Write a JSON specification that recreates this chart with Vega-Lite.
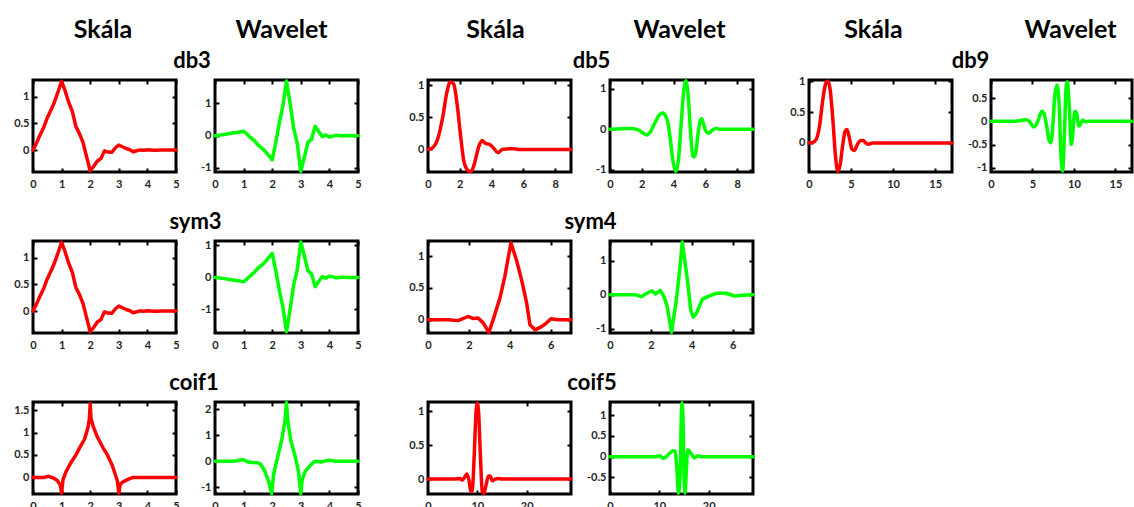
{
  "$schema": "https://vega.github.io/schema/vega-lite/v6.json",
  "padding": {"left": 12, "top": 16, "right": 0, "bottom": 0},
  "background": "white",
  "datasets": {
    "empty": [],
    "db3phi": [{"x":0,"y":0},{"x":0.125,"y":0.134},{"x":0.25,"y":0.285},{"x":0.375,"y":0.423},{"x":0.5,"y":0.605},{"x":0.625,"y":0.744},{"x":0.75,"y":0.898},{"x":0.875,"y":1.091},{"x":1,"y":1.286},{"x":1.125,"y":1.105},{"x":1.25,"y":0.89},{"x":1.375,"y":0.724},{"x":1.5,"y":0.441},{"x":1.625,"y":0.307},{"x":1.75,"y":0.14},{"x":1.875,"y":-0.126},{"x":2,"y":-0.386},{"x":2.125,"y":-0.303},{"x":2.25,"y":-0.203},{"x":2.375,"y":-0.158},{"x":2.5,"y":-0.015},{"x":2.625,"y":-0.037},{"x":2.75,"y":-0.041},{"x":2.875,"y":0.038},{"x":3,"y":0.095},{"x":3.125,"y":0.062},{"x":3.25,"y":0.03},{"x":3.375,"y":0.011},{"x":3.5,"y":-0.032},{"x":3.625,"y":-0.013},{"x":3.75,"y":0.003},{"x":3.875,"y":-0.002},{"x":4,"y":0.004},{"x":4.125,"y":0.002},{"x":4.25,"y":-0.002},{"x":4.5,"y":0},{"x":5,"y":0}],
    "db3psi": [{"x":0,"y":0},{"x":0.125,"y":0.014},{"x":0.25,"y":0.03},{"x":0.375,"y":0.045},{"x":0.5,"y":0.064},{"x":0.625,"y":0.079},{"x":0.75,"y":0.095},{"x":0.875,"y":0.116},{"x":1,"y":0.136},{"x":1.125,"y":0.043},{"x":1.25,"y":-0.063},{"x":1.375,"y":-0.157},{"x":1.5,"y":-0.288},{"x":1.625,"y":-0.378},{"x":1.75,"y":-0.481},{"x":1.875,"y":-0.616},{"x":2,"y":-0.751},{"x":2.125,"y":-0.212},{"x":2.25,"y":0.403},{"x":2.375,"y":0.942},{"x":2.5,"y":1.701},{"x":2.625,"y":1.008},{"x":2.75,"y":0.235},{"x":2.875,"y":-0.238},{"x":3,"y":-1.108},{"x":3.125,"y":-0.669},{"x":3.25,"y":-0.204},{"x":3.375,"y":-0.114},{"x":3.5,"y":0.288},{"x":3.625,"y":0.131},{"x":3.75,"y":-0.029},{"x":3.875,"y":0.023},{"x":4,"y":-0.04},{"x":4.125,"y":-0.016},{"x":4.25,"y":0.015},{"x":4.375,"y":-0.002},{"x":4.5,"y":-0.002},{"x":4.625,"y":0.001},{"x":5,"y":0}],
    "sym3phi": [{"x":0,"y":0},{"x":0.125,"y":0.134},{"x":0.25,"y":0.285},{"x":0.375,"y":0.423},{"x":0.5,"y":0.605},{"x":0.625,"y":0.744},{"x":0.75,"y":0.898},{"x":0.875,"y":1.091},{"x":1,"y":1.286},{"x":1.125,"y":1.105},{"x":1.25,"y":0.89},{"x":1.375,"y":0.724},{"x":1.5,"y":0.441},{"x":1.625,"y":0.307},{"x":1.75,"y":0.14},{"x":1.875,"y":-0.126},{"x":2,"y":-0.386},{"x":2.125,"y":-0.303},{"x":2.25,"y":-0.203},{"x":2.375,"y":-0.158},{"x":2.5,"y":-0.015},{"x":2.625,"y":-0.037},{"x":2.75,"y":-0.041},{"x":2.875,"y":0.038},{"x":3,"y":0.095},{"x":3.125,"y":0.062},{"x":3.25,"y":0.03},{"x":3.375,"y":0.011},{"x":3.5,"y":-0.032},{"x":3.625,"y":-0.013},{"x":3.75,"y":0.003},{"x":3.875,"y":-0.002},{"x":4,"y":0.004},{"x":4.125,"y":0.002},{"x":4.25,"y":-0.002},{"x":4.5,"y":0},{"x":5,"y":0}],
    "sym3psi": [{"x":0,"y":0},{"x":0.125,"y":-0.014},{"x":0.25,"y":-0.03},{"x":0.375,"y":-0.045},{"x":0.5,"y":-0.064},{"x":0.625,"y":-0.079},{"x":0.75,"y":-0.095},{"x":0.875,"y":-0.116},{"x":1,"y":-0.136},{"x":1.125,"y":-0.043},{"x":1.25,"y":0.063},{"x":1.375,"y":0.157},{"x":1.5,"y":0.288},{"x":1.625,"y":0.378},{"x":1.75,"y":0.481},{"x":1.875,"y":0.616},{"x":2,"y":0.751},{"x":2.125,"y":0.212},{"x":2.25,"y":-0.403},{"x":2.375,"y":-0.942},{"x":2.5,"y":-1.701},{"x":2.625,"y":-1.008},{"x":2.75,"y":-0.235},{"x":2.875,"y":0.238},{"x":3,"y":1.108},{"x":3.125,"y":0.669},{"x":3.25,"y":0.204},{"x":3.375,"y":0.114},{"x":3.5,"y":-0.288},{"x":3.625,"y":-0.131},{"x":3.75,"y":0.029},{"x":3.875,"y":-0.023},{"x":4,"y":0.04},{"x":4.125,"y":0.016},{"x":4.25,"y":-0.015},{"x":4.375,"y":0.002},{"x":4.5,"y":0.002},{"x":4.625,"y":-0.001},{"x":5,"y":0}],
    "coif1phi": [{"x":0,"y":0},{"x":0.4,"y":0},{"x":0.53,"y":0.025},{"x":0.7,"y":-0.01},{"x":0.85,"y":-0.07},{"x":0.95,"y":-0.17},{"x":1,"y":-0.35},{"x":1.05,"y":-0.05},{"x":1.15,"y":0.12},{"x":1.3,"y":0.3},{"x":1.5,"y":0.5},{"x":1.65,"y":0.68},{"x":1.8,"y":0.85},{"x":1.92,"y":1.1},{"x":1.97,"y":1.3},{"x":2,"y":1.64},{"x":2.03,"y":1.3},{"x":2.1,"y":1.15},{"x":2.25,"y":0.9},{"x":2.45,"y":0.66},{"x":2.6,"y":0.5},{"x":2.75,"y":0.3},{"x":2.85,"y":0.12},{"x":2.95,"y":-0.08},{"x":3,"y":-0.35},{"x":3.05,"y":-0.15},{"x":3.15,"y":-0.1},{"x":3.3,"y":-0.05},{"x":3.5,"y":0},{"x":4,"y":0},{"x":5,"y":0}],
    "coif1psi": [{"x":0,"y":0},{"x":0.65,"y":0},{"x":0.98,"y":0.06},{"x":1.15,"y":-0.03},{"x":1.3,"y":-0.05},{"x":1.5,"y":-0.06},{"x":1.6,"y":-0.12},{"x":1.75,"y":-0.4},{"x":1.88,"y":-0.8},{"x":1.98,"y":-1.24},{"x":2.05,"y":-0.5},{"x":2.2,"y":0.2},{"x":2.35,"y":0.9},{"x":2.45,"y":1.6},{"x":2.5,"y":2.25},{"x":2.55,"y":1.5},{"x":2.65,"y":0.8},{"x":2.8,"y":0.2},{"x":2.92,"y":-0.4},{"x":3,"y":-1.24},{"x":3.05,"y":-0.7},{"x":3.15,"y":-0.4},{"x":3.3,"y":-0.2},{"x":3.45,"y":-0.03},{"x":3.5,"y":0},{"x":3.7,"y":-0.03},{"x":4,"y":0.04},{"x":4.2,"y":0},{"x":5,"y":0}],
    "sym4phi": [{"x":0,"y":0},{"x":0.98,"y":0},{"x":1.47,"y":-0.015},{"x":1.96,"y":0.05},{"x":2.2,"y":0.02},{"x":2.45,"y":0.025},{"x":2.7,"y":-0.05},{"x":2.98,"y":-0.2},{"x":3.19,"y":0},{"x":3.52,"y":0.34},{"x":3.76,"y":0.68},{"x":4.06,"y":1.21},{"x":4.33,"y":0.94},{"x":4.58,"y":0.63},{"x":4.83,"y":0.26},{"x":4.99,"y":-0.08},{"x":5.24,"y":-0.16},{"x":5.56,"y":-0.11},{"x":5.81,"y":-0.05},{"x":6.02,"y":0.015},{"x":6.38,"y":0},{"x":7,"y":0}],
    "sym4psi": [{"x":0,"y":0},{"x":1.24,"y":0},{"x":1.52,"y":-0.06},{"x":1.81,"y":0.04},{"x":2.06,"y":0.11},{"x":2.22,"y":0.02},{"x":2.47,"y":0.12},{"x":2.64,"y":-0.06},{"x":2.8,"y":-0.35},{"x":3.01,"y":-1.11},{"x":3.25,"y":-0.16},{"x":3.41,"y":0.72},{"x":3.54,"y":1.55},{"x":3.79,"y":0.43},{"x":3.95,"y":-0.45},{"x":4.07,"y":-0.66},{"x":4.23,"y":-0.55},{"x":4.53,"y":-0.13},{"x":4.78,"y":-0.06},{"x":5.19,"y":0.04},{"x":5.68,"y":0.04},{"x":6.1,"y":-0.04},{"x":6.5,"y":-0.02},{"x":7,"y":0}],
    "db5phi": [{"x":0,"y":0},{"x":0.3,"y":0.03},{"x":0.63,"y":0.18},{"x":0.94,"y":0.52},{"x":1.19,"y":0.89},{"x":1.4,"y":1.05},{"x":1.61,"y":1.02},{"x":1.82,"y":0.73},{"x":2.03,"y":0.26},{"x":2.24,"y":-0.16},{"x":2.45,"y":-0.31},{"x":2.62,"y":-0.34},{"x":2.75,"y":-0.33},{"x":2.93,"y":-0.21},{"x":3.2,"y":0.05},{"x":3.41,"y":0.14},{"x":3.55,"y":0.11},{"x":3.66,"y":0.09},{"x":3.87,"y":0.08},{"x":4.13,"y":0.02},{"x":4.4,"y":-0.05},{"x":4.67,"y":0},{"x":5.13,"y":0.01},{"x":5.44,"y":0.01},{"x":5.76,"y":0},{"x":9,"y":0}],
    "db5psi": [{"x":0,"y":0},{"x":1.26,"y":0.016},{"x":1.78,"y":-0.016},{"x":2.1,"y":-0.1},{"x":2.3,"y":-0.14},{"x":2.51,"y":-0.08},{"x":2.83,"y":0.16},{"x":3.1,"y":0.35},{"x":3.3,"y":0.4},{"x":3.5,"y":0.33},{"x":3.65,"y":0.15},{"x":3.77,"y":-0.16},{"x":3.98,"y":-0.82},{"x":4.15,"y":-1.04},{"x":4.31,"y":-0.74},{"x":4.5,"y":0.25},{"x":4.65,"y":0.98},{"x":4.77,"y":1.19},{"x":4.92,"y":0.82},{"x":5.07,"y":-0.08},{"x":5.22,"y":-0.66},{"x":5.3,"y":-0.68},{"x":5.4,"y":-0.57},{"x":5.55,"y":-0.08},{"x":5.7,"y":0.23},{"x":5.77,"y":0.26},{"x":5.86,"y":0.16},{"x":6.03,"y":-0.04},{"x":6.2,"y":-0.1},{"x":6.45,"y":-0.016},{"x":6.7,"y":0.016},{"x":6.91,"y":0},{"x":9,"y":0}],
    "db9phi": [{"x":0,"y":0},{"x":0.47,"y":0.01},{"x":0.86,"y":0.06},{"x":1.26,"y":0.28},{"x":1.65,"y":0.71},{"x":1.96,"y":0.95},{"x":2.24,"y":1.0},{"x":2.51,"y":0.87},{"x":2.83,"y":0.39},{"x":3.14,"y":-0.2},{"x":3.42,"y":-0.46},{"x":3.69,"y":-0.36},{"x":4.0,"y":-0.04},{"x":4.32,"y":0.2},{"x":4.52,"y":0.22},{"x":4.79,"y":0.09},{"x":5.1,"y":-0.1},{"x":5.38,"y":-0.12},{"x":5.77,"y":-0.02},{"x":6.16,"y":0.04},{"x":6.44,"y":0.04},{"x":6.75,"y":0},{"x":7.07,"y":-0.02},{"x":7.54,"y":0},{"x":17,"y":0}],
    "db9psi": [{"x":0,"y":0},{"x":2.67,"y":0},{"x":3.45,"y":0.014},{"x":4.16,"y":0.036},{"x":4.63,"y":0},{"x":5.14,"y":-0.12},{"x":5.41,"y":-0.086},{"x":5.8,"y":0.08},{"x":6.12,"y":0.22},{"x":6.39,"y":0.17},{"x":6.71,"y":-0.1},{"x":6.98,"y":-0.39},{"x":7.22,"y":-0.46},{"x":7.45,"y":-0.1},{"x":7.69,"y":0.55},{"x":7.96,"y":0.78},{"x":8.24,"y":0.26},{"x":8.39,"y":-0.53},{"x":8.63,"y":-1.07},{"x":8.86,"y":-0.24},{"x":9.06,"y":0.76},{"x":9.22,"y":0.85},{"x":9.45,"y":0.26},{"x":9.69,"y":-0.5},{"x":10.12,"y":0.22},{"x":10.31,"y":0.19},{"x":10.59,"y":-0.1},{"x":10.78,"y":-0.065},{"x":11.06,"y":0.03},{"x":11.37,"y":-0.014},{"x":11.69,"y":0},{"x":17,"y":0}],
    "coif5phi": [{"x":0,"y":0},{"x":5.44,"y":0},{"x":6.46,"y":0.01},{"x":6.94,"y":-0.015},{"x":7.48,"y":0.035},{"x":7.89,"y":0.074},{"x":8.3,"y":-0.015},{"x":8.71,"y":-0.19},{"x":8.98,"y":-0.16},{"x":9.39,"y":0.38},{"x":9.73,"y":0.98},{"x":10.0,"y":1.12},{"x":10.27,"y":0.98},{"x":10.61,"y":0.38},{"x":11.02,"y":-0.19},{"x":11.3,"y":-0.21},{"x":11.77,"y":-0.09},{"x":12.24,"y":0.045},{"x":12.59,"y":0.045},{"x":13.06,"y":-0.025},{"x":13.6,"y":0},{"x":14.3,"y":0.01},{"x":14.97,"y":0},{"x":29,"y":0}],
    "coif5psi": [{"x":0,"y":0},{"x":9.08,"y":0},{"x":10.1,"y":0.024},{"x":10.78,"y":-0.04},{"x":11.47,"y":0.01},{"x":12.15,"y":0.09},{"x":12.83,"y":0.145},{"x":13.2,"y":0.13},{"x":13.58,"y":-0.31},{"x":13.86,"y":-0.88},{"x":14.2,"y":-0.48},{"x":14.47,"y":0.98},{"x":14.6,"y":1.3},{"x":14.81,"y":0.9},{"x":15.02,"y":-0.48},{"x":15.22,"y":-0.88},{"x":15.49,"y":-0.31},{"x":15.77,"y":0.17},{"x":16.11,"y":0.13},{"x":16.59,"y":0.05},{"x":17.13,"y":-0.03},{"x":17.82,"y":0.024},{"x":18.5,"y":0},{"x":29,"y":0}]
  },
  "concat": [
    {
      "width": 143, "height": 92, "data": {"name": "db3phi"},
      "title": {"text": "Skála", "dx": -1.5},
      "layer": [
        {"mark": {"type": "line", "color": "#ff0000"}, "encoding": {"x": {"field": "x", "type": "quantitative", "scale": {"domain": [0, 5], "nice": false, "zero": false}, "axis": {"values": [0,1,2,3,4,5], "title": null}}, "y": {"field": "y", "type": "quantitative", "scale": {"domain": [-0.41, 1.31], "nice": false, "zero": false}, "axis": {"values": [0,0.5,1], "title": null}}}},
        {"mark": {"type": "line", "color": "#ff0000", "opacity": 0}, "encoding": {"x": {"field": "x", "type": "quantitative", "scale": {"domain": [0, 5], "nice": false, "zero": false}, "axis": {"orient": "top", "labels": false, "values": [0,1,2,3,4,5], "title": "db3", "titleX": 158.5, "titleY": -13}}, "y": {"field": "y", "type": "quantitative", "scale": {"domain": [-0.41, 1.31], "nice": false, "zero": false}, "axis": {"orient": "right", "labels": false, "values": [0,0.5,1], "title": null}}}}
      ],
      "resolve": {"axis": {"x": "independent", "y": "independent"}}
    },
    {"width": 39, "height": 92, "data": {"name": "empty"}, "mark": "point", "view": {"stroke": null}},
    {
      "width": 143, "height": 92, "data": {"name": "db3psi"},
      "title": {"text": "Wavelet", "dx": -5},
      "layer": [
        {"mark": {"type": "line", "color": "#00ff00"}, "encoding": {"x": {"field": "x", "type": "quantitative", "scale": {"domain": [0, 5], "nice": false, "zero": false}, "axis": {"values": [0,1,2,3,4,5], "title": null}}, "y": {"field": "y", "type": "quantitative", "scale": {"domain": [-1.13, 1.73], "nice": false, "zero": false}, "axis": {"values": [-1,0,1], "title": null}}}},
        {"mark": {"type": "line", "color": "#00ff00", "opacity": 0}, "encoding": {"x": {"field": "x", "type": "quantitative", "scale": {"domain": [0, 5], "nice": false, "zero": false}, "axis": {"orient": "top", "labels": false, "values": [0,1,2,3,4,5], "title": "db3", "titleX": 72, "titleY": -13, "titleOpacity": 0}}, "y": {"field": "y", "type": "quantitative", "scale": {"domain": [-1.13, 1.73], "nice": false, "zero": false}, "axis": {"orient": "right", "labels": false, "values": [-1,0,1], "title": null}}}}
      ],
      "resolve": {"axis": {"x": "independent", "y": "independent"}}
    },
    {"width": 70, "height": 92, "data": {"name": "empty"}, "mark": "point", "view": {"stroke": null}},
    {
      "width": 143, "height": 92, "data": {"name": "db5phi"},
      "title": {"text": "Skála", "dx": -4},
      "layer": [
        {"mark": {"type": "line", "color": "#ff0000", "interpolate": "monotone"}, "encoding": {"x": {"field": "x", "type": "quantitative", "scale": {"domain": [0, 9], "nice": false, "zero": false}, "axis": {"values": [0,2,4,6,8], "title": null}}, "y": {"field": "y", "type": "quantitative", "scale": {"domain": [-0.35, 1.08], "nice": false, "zero": false}, "axis": {"values": [0,0.5,1], "title": null}}}},
        {"mark": {"type": "line", "color": "#ff0000", "opacity": 0}, "encoding": {"x": {"field": "x", "type": "quantitative", "scale": {"domain": [0, 9], "nice": false, "zero": false}, "axis": {"orient": "top", "labels": false, "values": [0,2,4,6,8], "title": "db5", "titleX": 163, "titleY": -13}}, "y": {"field": "y", "type": "quantitative", "scale": {"domain": [-0.35, 1.08], "nice": false, "zero": false}, "axis": {"orient": "right", "labels": false, "values": [0,0.5,1], "title": null}}}}
      ],
      "resolve": {"axis": {"x": "independent", "y": "independent"}}
    },
    {"width": 39, "height": 92, "data": {"name": "empty"}, "mark": "point", "view": {"stroke": null}},
    {
      "width": 143, "height": 92, "data": {"name": "db5psi"},
      "title": {"text": "Wavelet", "dx": -2},
      "layer": [
        {"mark": {"type": "line", "color": "#00ff00", "interpolate": "monotone"}, "encoding": {"x": {"field": "x", "type": "quantitative", "scale": {"domain": [0, 9], "nice": false, "zero": false}, "axis": {"values": [0,2,4,6,8], "title": null}}, "y": {"field": "y", "type": "quantitative", "scale": {"domain": [-1.05, 1.21], "nice": false, "zero": false}, "axis": {"values": [-1,0,1], "title": null}}}},
        {"mark": {"type": "line", "color": "#00ff00", "opacity": 0}, "encoding": {"x": {"field": "x", "type": "quantitative", "scale": {"domain": [0, 9], "nice": false, "zero": false}, "axis": {"orient": "top", "labels": false, "values": [0,2,4,6,8], "title": "db5", "titleX": 72, "titleY": -13, "titleOpacity": 0}}, "y": {"field": "y", "type": "quantitative", "scale": {"domain": [-1.05, 1.21], "nice": false, "zero": false}, "axis": {"orient": "right", "labels": false, "values": [-1,0,1], "title": null}}}}
      ],
      "resolve": {"axis": {"x": "independent", "y": "independent"}}
    },
    {"width": 56, "height": 92, "data": {"name": "empty"}, "mark": "point", "view": {"stroke": null}},
    {
      "width": 143, "height": 92, "data": {"name": "db9phi"},
      "title": {"text": "Skála", "dx": -7},
      "layer": [
        {"mark": {"type": "line", "color": "#ff0000", "interpolate": "monotone"}, "encoding": {"x": {"field": "x", "type": "quantitative", "scale": {"domain": [0, 17], "nice": false, "zero": false}, "axis": {"values": [0,5,10,15], "title": null}}, "y": {"field": "y", "type": "quantitative", "scale": {"domain": [-0.47, 1.02], "nice": false, "zero": false}, "axis": {"values": [0,0.5,1], "title": null}}}},
        {"mark": {"type": "line", "color": "#ff0000", "opacity": 0}, "encoding": {"x": {"field": "x", "type": "quantitative", "scale": {"domain": [0, 17], "nice": false, "zero": false}, "axis": {"orient": "top", "labels": false, "values": [0,5,10,15], "title": "db9", "titleX": 161, "titleY": -13}}, "y": {"field": "y", "type": "quantitative", "scale": {"domain": [-0.47, 1.02], "nice": false, "zero": false}, "axis": {"orient": "right", "labels": false, "values": [0,0.5,1], "title": null}}}}
      ],
      "resolve": {"axis": {"x": "independent", "y": "independent"}}
    },
    {"width": 39, "height": 92, "data": {"name": "empty"}, "mark": "point", "view": {"stroke": null}},
    {
      "width": 141, "height": 92, "data": {"name": "db9psi"},
      "title": {"text": "Wavelet", "dx": 9},
      "layer": [
        {"mark": {"type": "line", "color": "#00ff00", "interpolate": "monotone"}, "encoding": {"x": {"field": "x", "type": "quantitative", "scale": {"domain": [0, 17], "nice": false, "zero": false}, "axis": {"values": [0,5,10,15], "title": null}}, "y": {"field": "y", "type": "quantitative", "scale": {"domain": [-1.09, 0.89], "nice": false, "zero": false}, "axis": {"values": [-1,-0.5,0,0.5], "title": null}}}},
        {"mark": {"type": "line", "color": "#00ff00", "opacity": 0}, "encoding": {"x": {"field": "x", "type": "quantitative", "scale": {"domain": [0, 17], "nice": false, "zero": false}, "axis": {"orient": "top", "labels": false, "values": [0,5,10,15], "title": "db9", "titleX": 70, "titleY": -13, "titleOpacity": 0}}, "y": {"field": "y", "type": "quantitative", "scale": {"domain": [-1.09, 0.89], "nice": false, "zero": false}, "axis": {"orient": "right", "labels": false, "values": [-1,-0.5,0,0.5], "title": null}}}}
      ],
      "resolve": {"axis": {"x": "independent", "y": "independent"}}
    },
    {
      "width": 143, "height": 92, "data": {"name": "sym3phi"},
      "layer": [
        {"mark": {"type": "line", "color": "#ff0000"}, "encoding": {"x": {"field": "x", "type": "quantitative", "scale": {"domain": [0, 5], "nice": false, "zero": false}, "axis": {"values": [0,1,2,3,4,5], "title": null}}, "y": {"field": "y", "type": "quantitative", "scale": {"domain": [-0.41, 1.31], "nice": false, "zero": false}, "axis": {"values": [0,0.5,1], "title": null}}}},
        {"mark": {"type": "line", "color": "#ff0000", "opacity": 0}, "encoding": {"x": {"field": "x", "type": "quantitative", "scale": {"domain": [0, 5], "nice": false, "zero": false}, "axis": {"orient": "top", "labels": false, "values": [0,1,2,3,4,5], "title": "sym3", "titleX": 162, "titleY": -13}}, "y": {"field": "y", "type": "quantitative", "scale": {"domain": [-0.41, 1.31], "nice": false, "zero": false}, "axis": {"orient": "right", "labels": false, "values": [0,0.5,1], "title": null}}}}
      ],
      "resolve": {"axis": {"x": "independent", "y": "independent"}}
    },
    {"width": 39, "height": 92, "data": {"name": "empty"}, "mark": "point", "view": {"stroke": null}},
    {
      "width": 143, "height": 92, "data": {"name": "sym3psi"},
      "layer": [
        {"mark": {"type": "line", "color": "#00ff00"}, "encoding": {"x": {"field": "x", "type": "quantitative", "scale": {"domain": [0, 5], "nice": false, "zero": false}, "axis": {"values": [0,1,2,3,4,5], "title": null}}, "y": {"field": "y", "type": "quantitative", "scale": {"domain": [-1.74, 1.14], "nice": false, "zero": false}, "axis": {"values": [-1,0,1], "title": null}}}},
        {"mark": {"type": "line", "color": "#00ff00", "opacity": 0}, "encoding": {"x": {"field": "x", "type": "quantitative", "scale": {"domain": [0, 5], "nice": false, "zero": false}, "axis": {"orient": "top", "labels": false, "values": [0,1,2,3,4,5], "title": null}}, "y": {"field": "y", "type": "quantitative", "scale": {"domain": [-1.74, 1.14], "nice": false, "zero": false}, "axis": {"orient": "right", "labels": false, "values": [-1,0,1], "title": null}}}}
      ],
      "resolve": {"axis": {"x": "independent", "y": "independent"}}
    },
    {"width": 70, "height": 92, "data": {"name": "empty"}, "mark": "point", "view": {"stroke": null}},
    {
      "width": 143, "height": 92, "data": {"name": "sym4phi"},
      "layer": [
        {"mark": {"type": "line", "color": "#ff0000"}, "encoding": {"x": {"field": "x", "type": "quantitative", "scale": {"domain": [0, 7], "nice": false, "zero": false}, "axis": {"values": [0,2,4,6], "title": null}}, "y": {"field": "y", "type": "quantitative", "scale": {"domain": [-0.21, 1.24], "nice": false, "zero": false}, "axis": {"values": [0,0.5,1], "title": null}}}},
        {"mark": {"type": "line", "color": "#ff0000", "opacity": 0}, "encoding": {"x": {"field": "x", "type": "quantitative", "scale": {"domain": [0, 7], "nice": false, "zero": false}, "axis": {"orient": "top", "labels": false, "values": [0,2,4,6], "title": "sym4", "titleX": 162, "titleY": -13}}, "y": {"field": "y", "type": "quantitative", "scale": {"domain": [-0.21, 1.24], "nice": false, "zero": false}, "axis": {"orient": "right", "labels": false, "values": [0,0.5,1], "title": null}}}}
      ],
      "resolve": {"axis": {"x": "independent", "y": "independent"}}
    },
    {"width": 39, "height": 92, "data": {"name": "empty"}, "mark": "point", "view": {"stroke": null}},
    {
      "width": 143, "height": 92, "data": {"name": "sym4psi"},
      "layer": [
        {"mark": {"type": "line", "color": "#00ff00"}, "encoding": {"x": {"field": "x", "type": "quantitative", "scale": {"domain": [0, 7], "nice": false, "zero": false}, "axis": {"values": [0,2,4,6], "title": null}}, "y": {"field": "y", "type": "quantitative", "scale": {"domain": [-1.13, 1.58], "nice": false, "zero": false}, "axis": {"values": [-1,0,1], "title": null}}}},
        {"mark": {"type": "line", "color": "#00ff00", "opacity": 0}, "encoding": {"x": {"field": "x", "type": "quantitative", "scale": {"domain": [0, 7], "nice": false, "zero": false}, "axis": {"orient": "top", "labels": false, "values": [0,2,4,6], "title": null}}, "y": {"field": "y", "type": "quantitative", "scale": {"domain": [-1.13, 1.58], "nice": false, "zero": false}, "axis": {"orient": "right", "labels": false, "values": [-1,0,1], "title": null}}}}
      ],
      "resolve": {"axis": {"x": "independent", "y": "independent"}}
    },
    {"width": 56, "height": 92, "data": {"name": "empty"}, "mark": "point", "view": {"stroke": null}},
    {"width": 143, "height": 92, "data": {"name": "empty"}, "mark": "point", "view": {"stroke": null}},
    {"width": 39, "height": 92, "data": {"name": "empty"}, "mark": "point", "view": {"stroke": null}},
    {"width": 141, "height": 92, "data": {"name": "empty"}, "mark": "point", "view": {"stroke": null}},
    {
      "width": 143, "height": 92, "data": {"name": "coif1phi"},
      "layer": [
        {"mark": {"type": "line", "color": "#ff0000"}, "encoding": {"x": {"field": "x", "type": "quantitative", "scale": {"domain": [0, 5], "nice": false, "zero": false}, "axis": {"values": [0,1,2,3,4,5], "title": null}}, "y": {"field": "y", "type": "quantitative", "scale": {"domain": [-0.37, 1.68], "nice": false, "zero": false}, "axis": {"values": [0,0.5,1,1.5], "title": null}}}},
        {"mark": {"type": "line", "color": "#ff0000", "opacity": 0}, "encoding": {"x": {"field": "x", "type": "quantitative", "scale": {"domain": [0, 5], "nice": false, "zero": false}, "axis": {"orient": "top", "labels": false, "values": [0,1,2,3,4,5], "title": "coif1", "titleX": 160.5, "titleY": -13}}, "y": {"field": "y", "type": "quantitative", "scale": {"domain": [-0.37, 1.68], "nice": false, "zero": false}, "axis": {"orient": "right", "labels": false, "values": [0,0.5,1,1.5], "title": null}}}}
      ],
      "resolve": {"axis": {"x": "independent", "y": "independent"}}
    },
    {"width": 39, "height": 92, "data": {"name": "empty"}, "mark": "point", "view": {"stroke": null}},
    {
      "width": 143, "height": 92, "data": {"name": "coif1psi"},
      "layer": [
        {"mark": {"type": "line", "color": "#00ff00"}, "encoding": {"x": {"field": "x", "type": "quantitative", "scale": {"domain": [0, 5], "nice": false, "zero": false}, "axis": {"values": [0,1,2,3,4,5], "title": null}}, "y": {"field": "y", "type": "quantitative", "scale": {"domain": [-1.26, 2.27], "nice": false, "zero": false}, "axis": {"values": [-1,0,1,2], "title": null}}}},
        {"mark": {"type": "line", "color": "#00ff00", "opacity": 0}, "encoding": {"x": {"field": "x", "type": "quantitative", "scale": {"domain": [0, 5], "nice": false, "zero": false}, "axis": {"orient": "top", "labels": false, "values": [0,1,2,3,4,5], "title": null}}, "y": {"field": "y", "type": "quantitative", "scale": {"domain": [-1.26, 2.27], "nice": false, "zero": false}, "axis": {"orient": "right", "labels": false, "values": [-1,0,1,2], "title": null}}}}
      ],
      "resolve": {"axis": {"x": "independent", "y": "independent"}}
    },
    {"width": 70, "height": 92, "data": {"name": "empty"}, "mark": "point", "view": {"stroke": null}},
    {
      "width": 143, "height": 92, "data": {"name": "coif5phi"},
      "layer": [
        {"mark": {"type": "line", "color": "#ff0000", "interpolate": "monotone"}, "encoding": {"x": {"field": "x", "type": "quantitative", "scale": {"domain": [0, 29], "nice": false, "zero": false}, "axis": {"values": [0,10,20], "title": null}}, "y": {"field": "y", "type": "quantitative", "scale": {"domain": [-0.22, 1.14], "nice": false, "zero": false}, "axis": {"values": [0,0.5,1], "title": null}}}},
        {"mark": {"type": "line", "color": "#ff0000", "opacity": 0}, "encoding": {"x": {"field": "x", "type": "quantitative", "scale": {"domain": [0, 29], "nice": false, "zero": false}, "axis": {"orient": "top", "labels": false, "values": [0,10,20], "title": "coif5", "titleX": 163.5, "titleY": -13}}, "y": {"field": "y", "type": "quantitative", "scale": {"domain": [-0.22, 1.14], "nice": false, "zero": false}, "axis": {"orient": "right", "labels": false, "values": [0,0.5,1], "title": null}}}}
      ],
      "resolve": {"axis": {"x": "independent", "y": "independent"}}
    },
    {"width": 39, "height": 92, "data": {"name": "empty"}, "mark": "point", "view": {"stroke": null}},
    {
      "width": 143, "height": 92, "data": {"name": "coif5psi"},
      "layer": [
        {"mark": {"type": "line", "color": "#00ff00", "interpolate": "monotone"}, "encoding": {"x": {"field": "x", "type": "quantitative", "scale": {"domain": [0, 29], "nice": false, "zero": false}, "axis": {"values": [0,10,20], "title": null}}, "y": {"field": "y", "type": "quantitative", "scale": {"domain": [-0.9, 1.32], "nice": false, "zero": false}, "axis": {"values": [-0.5,0,0.5,1], "title": null}}}},
        {"mark": {"type": "line", "color": "#00ff00", "opacity": 0}, "encoding": {"x": {"field": "x", "type": "quantitative", "scale": {"domain": [0, 29], "nice": false, "zero": false}, "axis": {"orient": "top", "labels": false, "values": [0,10,20], "title": null}}, "y": {"field": "y", "type": "quantitative", "scale": {"domain": [-0.9, 1.32], "nice": false, "zero": false}, "axis": {"orient": "right", "labels": false, "values": [-0.5,0,0.5,1], "title": null}}}}
      ],
      "resolve": {"axis": {"x": "independent", "y": "independent"}}
    }
  ],
  "columns": 11,
  "spacing": {"row": 69, "column": 0},
  "bounds": "flush",
  "config": {
    "view": {"stroke": "#000000", "strokeWidth": 3},
    "axis": {"domain": false, "grid": false, "tickSize": -4, "tickWidth": 2, "tickColor": "#000000", "labelFont": "Lato", "labelFontSize": 11, "labelFontWeight": "bold", "labelColor": "#262626", "labelFlush": false, "labelOverlap": false, "labelExpr": "replace(format(datum.value, '~g'), '\u2212', '-')", "titleFont": "Lato", "titleFontSize": 22, "titleFontWeight": "bold", "titleColor": "#000000", "titleAlign": "center", "titleBaseline": "alphabetic"},
    "axisX": {"labelBaseline": "alphabetic", "labelPadding": 19},
    "axisY": {"labelPadding": 8},
    "title": {"font": "Lato", "fontSize": 25, "fontWeight": "bold", "color": "#000000", "frame": "group", "anchor": "middle", "baseline": "alphabetic", "offset": 6},
    "line": {"strokeWidth": 3.5, "strokeCap": "round", "strokeJoin": "round"}
  }
}
